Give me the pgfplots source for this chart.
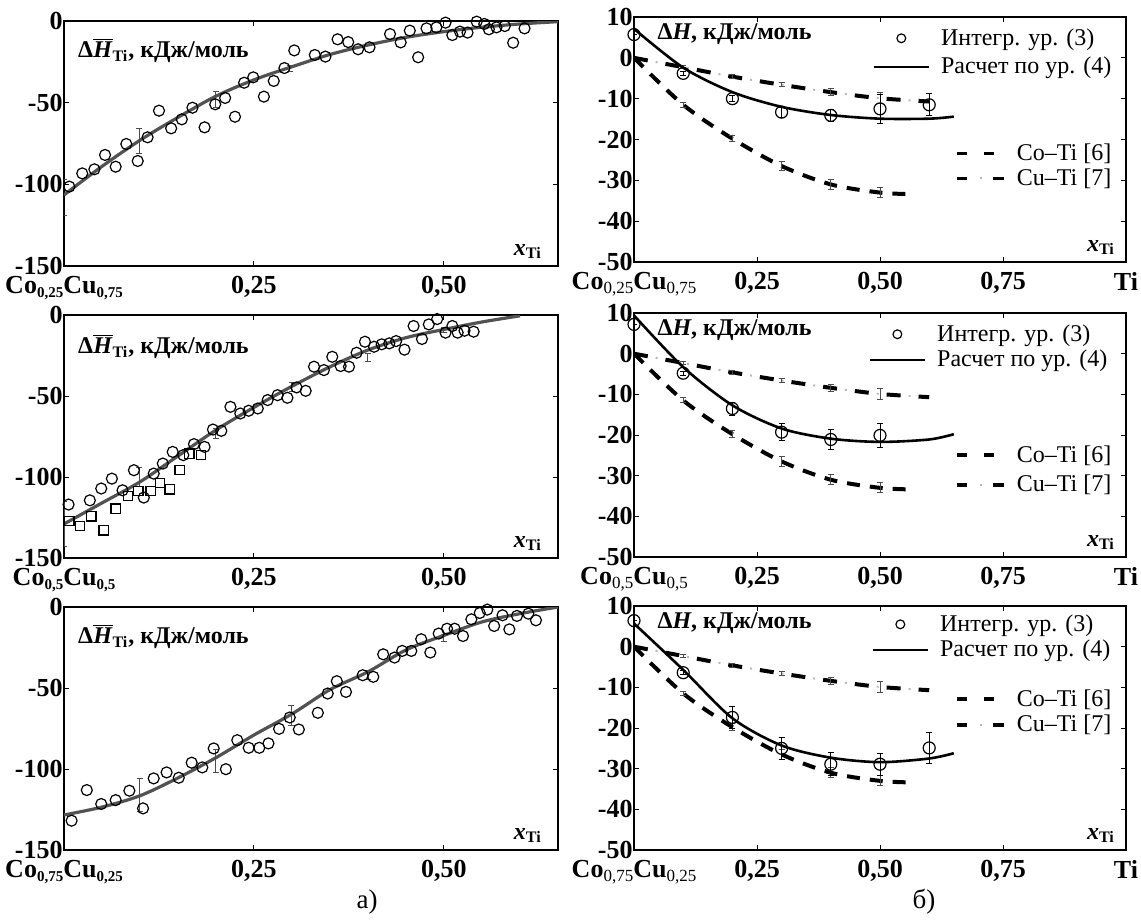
\documentclass[border=0pt]{standalone}
\usepackage{fontspec}
\setmainfont{Liberation Serif}
\usepackage{pgfplots}
\pgfplotsset{compat=1.18}

\newcommand{\tfont}{\bfseries\fontsize{13}{15}\selectfont}
\newcommand{\lfont}{\bfseries\fontsize{12}{14}\selectfont}
\newcommand{\gfont}{\mdseries\fontsize{12}{14}\selectfont}
\newcommand{\lsub}[1]{\raisebox{-0.3ex}{\fontsize{7.5}{8}\selectfont #1}}
\newcommand{\rsub}[1]{\raisebox{-0.3ex}{\mdseries\fontsize{8.5}{9}\selectfont #1}}
\newcommand{\dHTi}{Δ$\overline{\mbox{\textit{H}}}$\textsubscript{Ti}, кДж/моль}
\newcommand{\xTi}{\textit{x}\textsubscript{Ti}}

\tikzset{lab/.style={anchor=west, font=\lfont, inner sep=0pt}}

\pgfplotsset{
  base/.style={scale only axis, anchor=north west,
    tick align=inside, major tick length=2.5pt,
    tick style={black, line width=0.5pt},
    axis line style={line width=0.8pt},
    ticklabel style={font=\tfont},
    yticklabel style={inner xsep=0.5pt, inner ysep=0pt},
    xticklabel style={inner ysep=0pt, yshift=-5pt}},
  leftax/.style={base, width=247pt, xmin=0, xmax=0.65, ymin=-150, ymax=0,
    xtick={0,0.25,0.5},
    ytick={-150,-100,-50,0}, yticklabels={-150,-100,-50,0}},
  rightax/.style={base, width=246pt, xmin=0, xmax=1, ymin=-50, ymax=10,
    xtick={0,0.25,0.5,0.75,1},
    ytick={-50,-40,-30,-20,-10,0,10}, yticklabels={-50,-40,-30,-20,-10,0,10}},
  lcurve/.style={no marks, smooth, black!68, line width=1.6pt},
  rcurve/.style={no marks, smooth, black, line width=1.3pt,
    legend image code/.code={\draw[#1] (0pt,0pt) -- (27.5pt,0pt);}},
  circ/.style={only marks, mark=o, mark size=2.75pt,
    mark options={black, line width=0.6pt}},
  rcirc/.style={only marks, mark=o, mark size=3pt,
    mark options={black, line width=0.6pt},
    error bars/y dir=both, error bars/y explicit,
    error bars/error bar style={black, line width=0.5pt},
    error bars/error mark options={rotate=90, mark size=1.5pt, black, line width=0.5pt},
    legend image code/.code={\draw[#1, mark size=2.2pt] plot coordinates {(13.75pt,0pt)};}},
  sq/.style={only marks, mark=square, mark size=2.3pt,
    mark options={black, line width=0.6pt}},
  errs/.style={no marks, draw=none, forget plot,
    error bars/y dir=both, error bars/y explicit,
    error bars/error bar style={draw=gray!60!black, solid, line width=0.5pt},
    error bars/error mark options={rotate=90, mark size=1.5pt, draw=gray!60!black, solid, line width=0.5pt}},
  coti/.style={no marks, smooth, black, line width=2pt, dash pattern=on 6.5pt off 5pt, forget plot},
  cutig/.style={no marks, smooth, gray!55, line width=1pt, dash pattern=on 1pt off 15pt, dash phase=5pt, forget plot},
  cutib/.style={no marks, smooth, black, line width=2pt, dash pattern=on 7pt off 9pt, forget plot},
  leg1/.style={legend style={draw=none, fill=none, font=\gfont, inner sep=0pt,
    column sep=2.5pt, nodes={inner xsep=3pt, inner ysep=1pt}, cells={anchor=west}}},
}

\newcommand{\binaries}{%
  \addplot[cutig] coordinates {(0,0) (0.1,-2.3) (0.2,-4.6) (0.3,-6.6) (0.4,-8.4) (0.5,-9.9) (0.6,-10.7)};
  \addplot[cutib] coordinates {(0,0) (0.1,-2.3) (0.2,-4.6) (0.3,-6.6) (0.4,-8.4) (0.5,-9.9) (0.6,-10.7)};
  \addplot[coti] coordinates {(0,0) (0.1,-11.5) (0.2,-19.8) (0.3,-26.5) (0.4,-31) (0.5,-33) (0.57,-33.4)};
  \addplot[errs] coordinates {(0.1,-2.3) +- (0,0.4) (0.2,-4.6) +- (0,0.5) (0.3,-6.6) +- (0,0.5) (0.4,-8.4) +- (0,0.8) (0.5,-9.9) +- (0,1.4)};
  \addplot[errs] coordinates {(0.1,-11.5) +- (0,0.6) (0.2,-19.8) +- (0,0.8) (0.3,-26.5) +- (0,1.2) (0.4,-31) +- (0,1.2) (0.5,-33) +- (0,1.2)};
}
% #1 position of the axis, #2 legend position, #3 row sep
\newcommand{\binlegend}[3]{%
  \begin{axis}[base, width=246pt, xmin=0, xmax=1, ymin=0, ymax=1, hide axis, at={#1}, height=122pt, leg1,
    legend style={at={#2}, anchor=north west, row sep=#3}]
  \addlegendimage{legend image code/.code={\draw[black, line width=1.8pt] (0pt,0pt) -- (5pt,0pt) (13.5pt,0pt) -- (18.5pt,0pt);}}
  \addlegendentry{Co–Ti [6]}
  \addlegendimage{legend image code/.code={\draw[black, line width=1.8pt] (0pt,0pt) -- (5pt,0pt) (18pt,0pt) -- (23.5pt,0pt); \draw[gray!55, line width=1pt] (11.5pt,0pt) -- (12.5pt,0pt);}}
  \addlegendentry{Cu–Ti [7]}
  \end{axis}
}

\begin{document}
\begin{tikzpicture}
\path[use as bounding box] (0pt,0pt) rectangle (570.5pt,-461pt);

% ---------- left column ----------
\begin{axis}[leftax, at={(32pt,-10.5pt)}, height=122.5pt,
  xticklabels={Co\lsub{0,25}Cu\lsub{0,75}, {0,25}, {0,50}}]
\addplot[lcurve] coordinates {(0,-106.5) (0.05,-89) (0.1,-73) (0.15,-59) (0.2,-46) (0.25,-36) (0.3,-28) (0.35,-20.5) (0.4,-14.7) (0.45,-10) (0.5,-6.5) (0.55,-3.8) (0.6,-1.8) (0.65,-0.4)};
\addplot[circ] coordinates {
(0.007,-101.4) (0.024,-93.3) (0.040,-90.8) (0.054,-82) (0.068,-89.2) (0.082,-75.3) (0.097,-85.7) (0.110,-71.2)
(0.125,-54.9) (0.141,-65.7) (0.155,-60.2) (0.169,-53.1) (0.185,-65.1) (0.199,-51) (0.212,-47.1) (0.225,-58.6)
(0.237,-37.8) (0.249,-34.5) (0.263,-46.3) (0.276,-36.7) (0.290,-28.8) (0.303,-18) (0.330,-20.8) (0.344,-21.8)
(0.360,-11.2) (0.374,-12.9) (0.387,-17.3) (0.402,-16.1) (0.415,0.6) (0.429,-8) (0.443,-13.1) (0.455,-5.9)
(0.466,-22.2) (0.477,-4.5) (0.490,-3.9) (0.502,-1) (0.511,-8.6) (0.521,-6.5) (0.531,-7.1) (0.543,-0.4)
(0.553,-1.8) (0.559,-5.1) (0.569,-3.9) (0.580,-3.1) (0.591,-13.3) (0.606,-4.5)};
\addplot[errs] coordinates {(0,-108) +- (0,11) (0.099,-73.5) +- (0,7.5) (0.2,-48) +- (0,5) (0.297,-29) +- (0,2)};
\node[lab] at (rel axis cs:0.028,0.88) {\dHTi};
\node[lab] at (rel axis cs:0.91,0.06) {\xTi};
\end{axis}

\begin{axis}[leftax, at={(32pt,-157.5pt)}, height=121.5pt,
  xticklabels={Co\lsub{0,5}Cu\lsub{0,5}, {0,25}, {0,50}}]
\addplot[lcurve] coordinates {(0,-129) (0.05,-116) (0.1,-103) (0.15,-87) (0.2,-71) (0.25,-57) (0.3,-44) (0.35,-32) (0.4,-21.6) (0.45,-14) (0.5,-8.9) (0.55,-4.3) (0.6,-0.5)};
\addplot[circ] coordinates {
(0.006,-117) (0.034,-114.4) (0.049,-107.1) (0.063,-101) (0.077,-108.2) (0.092,-95.8) (0.105,-112.7) (0.118,-97.9)
(0.130,-91.7) (0.143,-84.5) (0.157,-86.5) (0.171,-79.7) (0.185,-81.4) (0.196,-70.7) (0.207,-71.5) (0.219,-56.7)
(0.232,-60.8) (0.243,-59.1) (0.255,-57.7) (0.268,-52.5) (0.281,-49.5) (0.294,-51.1) (0.306,-44.7) (0.318,-46.8)
(0.329,-31.9) (0.342,-34) (0.353,-25.8) (0.364,-31.5) (0.375,-31.9) (0.385,-23.3) (0.396,-16.5) (0.408,-19.6)
(0.418,-18.1) (0.428,-17.5) (0.437,-16.1) (0.448,-21.4) (0.460,-6.8) (0.471,-14.8) (0.480,-5.8) (0.491,-2.5)
(0.502,-10.9) (0.511,-6.8) (0.518,-10.9) (0.527,-9.7) (0.539,-10.3)};
\addplot[sq] coordinates {
(0.007,-127.1) (0.021,-130.4) (0.036,-124.3) (0.052,-132.9) (0.068,-119.5) (0.084,-111.9) (0.098,-108.6)
(0.114,-108.6) (0.126,-103.6) (0.139,-107.6) (0.152,-95.8) (0.165,-85.5) (0.180,-86.5)};
\addplot[errs] coordinates {(0,-129) +- (0,14) (0.099,-100) +- (0,6) (0.2,-73) +- (0,3) (0.3,-44.5) +- (0,3) (0.4,-26) +- (0,2.5) (0.5,-9.5) +- (0,1.5)};
\node[lab] at (rel axis cs:0.028,0.87) {\dHTi};
\node[lab] at (rel axis cs:0.91,0.06) {\xTi};
\end{axis}

\begin{axis}[leftax, at={(32pt,-303.5pt)}, height=121.5pt,
  xticklabels={Co\lsub{0,75}Cu\lsub{0,25}, {0,25}, {0,50}}]
\addplot[lcurve] coordinates {(0,-128.4) (0.05,-123.5) (0.1,-116.5) (0.15,-105.5) (0.2,-93) (0.25,-79) (0.3,-66) (0.35,-51) (0.4,-40) (0.45,-26.5) (0.5,-17.5) (0.55,-9.2) (0.6,-4.1) (0.65,0)};
\addplot[circ] coordinates {
(0.010,-131.9) (0.030,-113) (0.049,-121.6) (0.068,-119.2) (0.086,-113.4) (0.104,-124.3) (0.118,-105.8) (0.135,-102.1)
(0.151,-105.4) (0.168,-96.1) (0.182,-99) (0.197,-87.3) (0.213,-100.1) (0.228,-82.2) (0.243,-86.9) (0.257,-86.9)
(0.269,-84.2) (0.283,-75.2) (0.297,-68.2) (0.309,-75.6) (0.334,-65.3) (0.347,-53.4) (0.359,-45.8) (0.371,-52.4)
(0.393,-42.1) (0.407,-43.1) (0.420,-29.2) (0.435,-31.2) (0.445,-27.1) (0.457,-27.1) (0.470,-19.9) (0.482,-28.1)
(0.493,-16.4) (0.504,-13.4) (0.514,-13.4) (0.525,-17.9) (0.536,-7.6) (0.547,-3.7) (0.557,-1.6) (0.566,-11.7)
(0.577,-5.1) (0.586,-13.8) (0.596,-5.5) (0.611,-4.1) (0.621,-8.2)};
\addplot[errs] coordinates {(0.1,-116) +- (0,10) (0.2,-95) +- (0,7) (0.299,-67) +- (0,6) (0.4,-42) +- (0,3) (0.5,-19) +- (0,2)};
\node[lab] at (rel axis cs:0.028,0.88) {\dHTi};
\node[lab] at (rel axis cs:0.91,0.06) {\xTi};
\end{axis}

% ---------- right column ----------
\begin{axis}[rightax, at={(317pt,-8.5pt)}, height=122.5pt, leg1,
  xticklabels={Co\rsub{0,25}Cu\rsub{0,75}, {0,25}, {0,50}, {0,75}, Ti},
  legend style={at={(rel axis cs:0.484,0.963)}, anchor=north west, row sep=2.5pt}]
\binaries
\addplot[rcirc] coordinates {(0,5.7) +- (0,0) (0.1,-3.8) +- (0,0.5) (0.2,-10) +- (0,0.8) (0.3,-13.3) +- (0,1.2) (0.4,-14.1) +- (0,1.5) (0.5,-12.5) +- (0,3.5) (0.6,-11.5) +- (0,2.7)};
\addlegendentry{Интегр. ур. (3)}
\addplot[rcurve] coordinates {(0,7.1) (0.1,-2.4) (0.2,-8.4) (0.3,-12) (0.4,-14) (0.5,-14.9) (0.6,-14.9) (0.65,-14.4)};
\addlegendentry{Расчет по ур. (4)}
\node[lab] at (rel axis cs:0.047,0.93) {Δ\textit{H}, кДж/моль};
\node[lab] at (rel axis cs:0.92,0.06) {\xTi};
\end{axis}
\binlegend{(317pt,-8.5pt)}{(rel axis cs:0.652,0.49)}{0.5pt}

\begin{axis}[rightax, at={(317pt,-156.5pt)}, height=122pt, leg1,
  xticklabels={Co\rsub{0,5}Cu\rsub{0,5}, {0,25}, {0,50}, {0,75}, Ti},
  legend style={at={(rel axis cs:0.476,0.963)}, anchor=north west, row sep=1pt}]
\binaries
\addplot[rcirc] coordinates {(0,7.2) +- (0,0) (0.1,-4.8) +- (0,0.5) (0.2,-13.5) +- (0,1.6) (0.3,-19.3) +- (0,2.1) (0.4,-21.1) +- (0,2.4) (0.5,-20.1) +- (0,3)};
\addlegendentry{Интегр. ур. (3)}
\addplot[rcurve] coordinates {(0,9.4) (0.1,-3.3) (0.2,-12.7) (0.3,-18.4) (0.4,-20.9) (0.5,-21.7) (0.6,-21.1) (0.65,-19.8)};
\addlegendentry{Расчет по ур. (4)}
\node[lab] at (rel axis cs:0.047,0.93) {Δ\textit{H}, кДж/моль};
\node[lab] at (rel axis cs:0.92,0.06) {\xTi};
\end{axis}
\binlegend{(317pt,-156.5pt)}{(rel axis cs:0.652,0.467)}{3pt}

\begin{axis}[rightax, at={(317pt,-303pt)}, height=122pt, leg1,
  xticklabels={Co\rsub{0,75}Cu\rsub{0,25}, {0,25}, {0,50}, {0,75}, Ti},
  legend style={at={(rel axis cs:0.482,0.975)}, anchor=north west, row sep=1pt}]
\binaries
\addplot[rcirc] coordinates {(0,6.4) +- (0,0) (0.1,-6.4) +- (0,0.5) (0.2,-17.4) +- (0,2.6) (0.3,-25) +- (0,2.7) (0.4,-28.9) +- (0,2.9) (0.5,-28.9) +- (0,2.7) (0.6,-24.9) +- (0,3.9)};
\addlegendentry{Интегр. ур. (3)}
\addplot[rcurve] coordinates {(0,5.7) (0.1,-5.7) (0.2,-17.6) (0.3,-24.3) (0.4,-27.3) (0.5,-28.4) (0.6,-27.5) (0.65,-26.2)};
\addlegendentry{Расчет по ур. (4)}
\node[lab] at (rel axis cs:0.047,0.93) {Δ\textit{H}, кДж/моль};
\node[lab] at (rel axis cs:0.92,0.06) {\xTi};
\end{axis}
\binlegend{(317pt,-303pt)}{(rel axis cs:0.652,0.668)}{1pt}

\node[font=\fontsize{13.5}{15}\selectfont] at (183.5pt,-451pt) {а)};
\node[font=\fontsize{13.5}{15}\selectfont] at (462pt,-451pt) {б)};
\end{tikzpicture}
\end{document}
